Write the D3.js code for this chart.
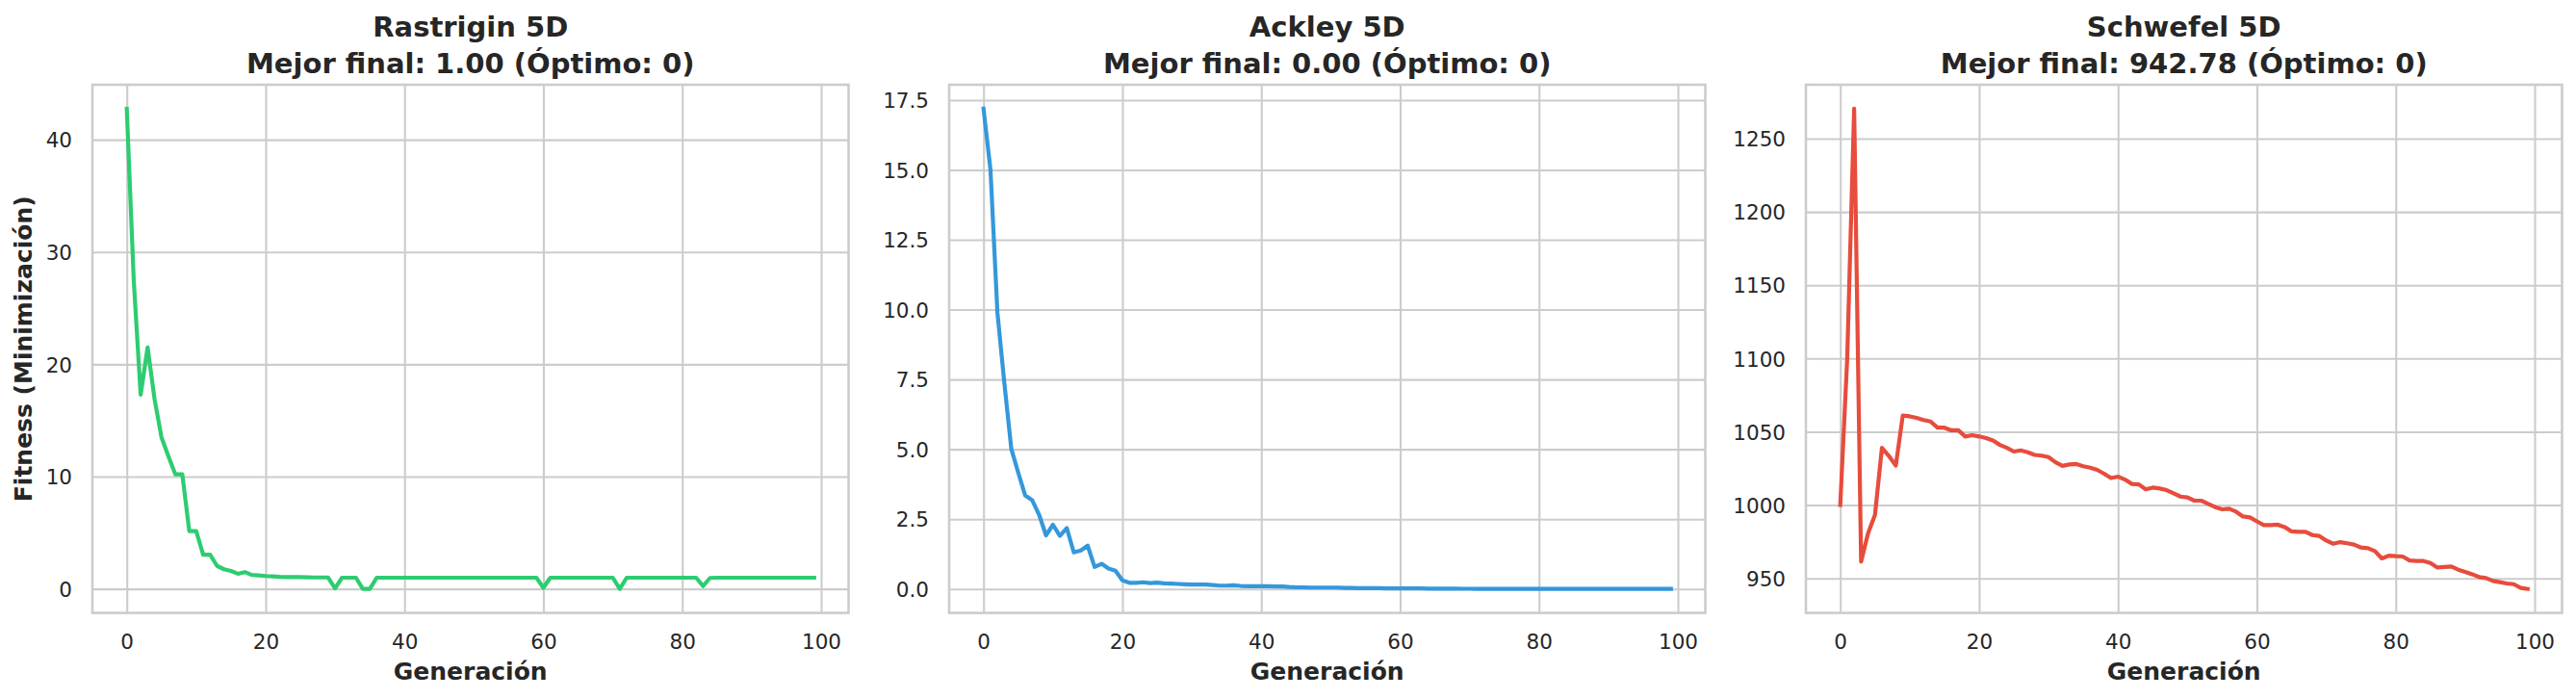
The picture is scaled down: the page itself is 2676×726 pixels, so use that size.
<!DOCTYPE html>
<html>
<head>
<meta charset="utf-8">
<script src="https://cdn.jsdelivr.net/npm/d3@7"></script>
<style>
  body { margin: 0; background: #fff; }
  text { font-family: "DejaVu Sans", sans-serif; fill: #262626; }
</style>
</head>
<body>
<div id="chart"></div>
<script>
// best fitness per generation
var rastrigin = [
  42.76, 27.5, 17.3, 21.5, 16.9, 13.5, 11.8, 10.2, 10.2, 5.15,
  5.15, 3.05, 3.05, 2.05, 1.75, 1.6, 1.35, 1.5, 1.25, 1.2,
  1.15, 1.12, 1.08, 1.06, 1.05, 1.05, 1.03, 1.02, 1.02, 1.02,
  0.05, 1.0, 1.0, 1.0, 0.0, 0.0, 1.0, 1.0, 1.0, 1.0,
  1.0, 1.0, 1.0, 1.0, 1.0, 1.0, 1.0, 1.0, 1.0, 1.0,
  1.0, 1.0, 1.0, 1.0, 1.0, 1.0, 1.0, 1.0, 1.0, 1.0,
  0.1, 1.0, 1.0, 1.0, 1.0, 1.0, 1.0, 1.0, 1.0, 1.0,
  1.0, 0.0, 1.0, 1.0, 1.0, 1.0, 1.0, 1.0, 1.0, 1.0,
  1.0, 1.0, 1.0, 0.25, 0.98, 1.0, 1.0, 1.0, 1.0, 1.0,
  1.0, 1.0, 1.0, 1.0, 1.0, 1.0, 1.0, 1.0, 1.0, 1.0
];
var ackley = [
  17.19, 15.01, 9.9, 7.37, 5.02, 4.16, 3.35, 3.18, 2.66, 1.92,
  2.3, 1.9, 2.18, 1.31, 1.38, 1.55, 0.79, 0.9, 0.73, 0.65,
  0.31, 0.22, 0.22, 0.24, 0.21, 0.23, 0.2, 0.19, 0.18, 0.17,
  0.16, 0.16, 0.16, 0.14, 0.12, 0.12, 0.13, 0.11, 0.1, 0.1,
  0.1, 0.1, 0.09, 0.09, 0.07, 0.06, 0.06, 0.05, 0.05, 0.05,
  0.05, 0.05, 0.04, 0.04, 0.03, 0.03, 0.03, 0.03, 0.02, 0.02,
  0.02, 0.02, 0.02, 0.02, 0.015, 0.015, 0.01, 0.01, 0.01, 0.008,
  0.007, 0.006, 0.006, 0.005, 0.005, 0.005, 0.004, 0.004, 0.004, 0.004,
  0.003, 0.003, 0.003, 0.003, 0.003, 0.003, 0.003, 0.003, 0.003, 0.003,
  0.003, 0.003, 0.002, 0.002, 0.002, 0.002, 0.002, 0.002, 0.002, 0.002
];
var schwefel = [
  1000, 1100, 1270.4, 961.4, 980.7, 993.3, 1039, 1033.5, 1027, 1061,
  1060.5, 1059.5, 1058, 1057, 1052.8, 1052.8, 1051, 1051, 1046.8, 1047.7,
  1046.8, 1045.7, 1044, 1041, 1039, 1036.5, 1037.3, 1036, 1034.2, 1033.7,
  1032.7, 1029.2, 1026.7, 1027.7, 1028, 1026.5, 1025.5, 1024, 1021.4, 1018.4,
  1019.4, 1017.4, 1014.4, 1014.1, 1010.7, 1011.9, 1011.3, 1010.2, 1008, 1005.8,
  1005.2, 1003, 1003, 1000.8, 998.6, 997.1, 997.5, 995.5, 992.2, 991.6,
  988.9, 986.3, 986.3, 986.6, 985, 982, 981.7, 981.7, 979.5, 978.9,
  975.8, 973.6, 974.7, 973.9, 973, 971, 970.6, 968.6, 963.6, 965.5,
  965.1, 964.9, 962.2, 961.8, 961.8, 960.5, 957.4, 957.7, 958.1, 955.9,
  954.4, 952.8, 950.9, 950.2, 948.2, 947.4, 946.5, 946, 943.5, 942.78
];

var panelNames = ["Rastrigin 5D", "Ackley 5D", "Schwefel 5D"];
var bestFinal = ["1.00", "0.00", "942.78"];
var optimum = ["0", "0", "0"];
var xTicks = [0, 20, 40, 60, 80, 100];
var yTicks = [
  [0, 10, 20, 30, 40],
  [0, 2.5, 5, 7.5, 10, 12.5, 15, 17.5],
  [950, 1000, 1050, 1100, 1150, 1200, 1250]
];
var yTickFormats = [d3.format("d"), d3.format(".1f"), d3.format("d")];
var xLabel = "Generación";
var yLabel = "Fitness (Minimización)";

var series = [rastrigin, ackley, schwefel];
var colors = ["#2ecc71", "#3498db", "#e74c3c"];

/* Layout */
var width = 2676;
var height = 726;
var lefts = [96, 986, 1876];
var plotW = 785.5;
var plotTop = 88;
var plotH = 548.6;
var grid = "#cccccc";

var svg = d3.select("#chart").append("svg")
  .attr("width", width)
  .attr("height", height);

series.forEach(function(values, i) {
  var g = svg.append("g")
    .attr("transform", `translate(${lefts[i]}, ${plotTop})`);

  var xPad = (values.length - 1) * 0.05;
  var xScale = d3.scaleLinear()
    .domain([-xPad, values.length - 1 + xPad])
    .range([0, plotW]);

  var ext = d3.extent(values);
  var yPad = (ext[1] - ext[0]) * 0.05;
  var yScale = d3.scaleLinear()
    .domain([ext[0] - yPad, ext[1] + yPad])
    .range([plotH, 0]);

  /* grid + tick labels through axes */
  var xAxis = d3.axisBottom(xScale)
    .tickValues(xTicks)
    .tickSizeInner(-plotH)
    .tickSizeOuter(0)
    .tickPadding(22);
  var yAxis = d3.axisLeft(yScale)
    .tickValues(yTicks[i])
    .tickFormat(yTickFormats[i])
    .tickSizeInner(-plotW)
    .tickSizeOuter(0)
    .tickPadding(21);

  var gx = g.append("g")
    .attr("transform", `translate(0, ${plotH})`)
    .call(xAxis);
  var gy = g.append("g").call(yAxis);

  [gx, gy].forEach(function(ax) {
    ax.select(".domain").remove();
    ax.selectAll(".tick line")
      .attr("stroke", grid)
      .attr("stroke-width", 2.08);
    ax.selectAll(".tick text")
      .attr("fill", "#262626")
      .style("font-size", "21.5px")
      .style("font-family", "'DejaVu Sans', sans-serif");
  });
  gy.selectAll(".tick text").attr("dy", "0.36em");

  /* line */
  var line = d3.line()
    .x((d, k) => xScale(k))
    .y(d => yScale(d));

  g.append("path")
    .datum(values)
    .attr("d", line)
    .attr("fill", "none")
    .attr("stroke", colors[i])
    .attr("stroke-width", 4.2)
    .attr("stroke-linejoin", "round")
    .attr("stroke-linecap", "square");

  /* spines */
  g.append("rect")
    .attr("width", plotW)
    .attr("height", plotH)
    .attr("fill", "none")
    .attr("stroke", grid)
    .attr("stroke-width", 2.6);

  /* titles */
  var title = g.append("text")
    .attr("text-anchor", "middle")
    .style("font-weight", "bold")
    .style("font-size", "29px");
  title.append("tspan")
    .attr("x", plotW / 2)
    .attr("y", 38 - plotTop)
    .text(panelNames[i]);
  title.append("tspan")
    .attr("x", plotW / 2)
    .attr("y", 75.5 - plotTop)
    .text(`Mejor final: ${bestFinal[i]} (Óptimo: ${optimum[i]})`);

  g.append("text")
    .attr("text-anchor", "middle")
    .attr("x", plotW / 2)
    .attr("y", 706 - plotTop)
    .style("font-weight", "bold")
    .style("font-size", "25px")
    .text(xLabel);

  if (i === 0) {
    g.append("text")
      .attr("text-anchor", "middle")
      .attr("transform", `translate(${33 - lefts[0]}, ${plotH / 2}) rotate(-90)`)
      .style("font-weight", "bold")
      .style("font-size", "25px")
      .text(yLabel);
  }
});
</script>
</body>
</html>
